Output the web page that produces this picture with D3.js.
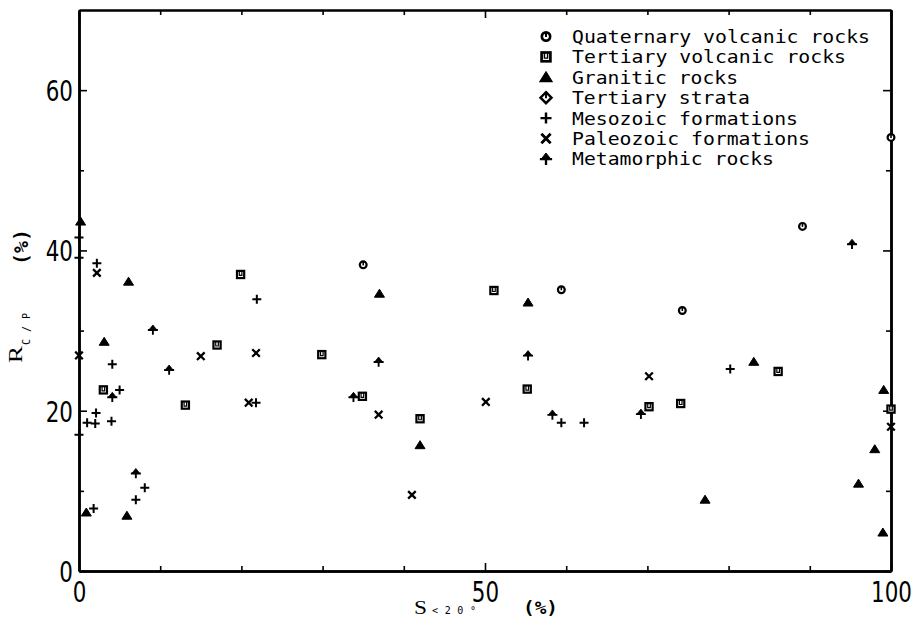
<!DOCTYPE html>
<html><head><meta charset="utf-8">
<script src="https://cdn.jsdelivr.net/npm/d3@7"></script>
<style>body{margin:0;background:#fff}svg{display:block}</style>
</head><body>
<svg id="c" width="915" height="638"></svg>
<script>
// ---- data ----
const seriesNames = ["Quaternary volcanic rocks","Tertiary volcanic rocks","Granitic rocks","Tertiary strata","Mesozoic formations","Paleozoic formations","Metamorphic rocks"];
const quaternaryX = [35.0, 59.4, 74.3, 89.1, 100];
const quaternaryY = [38.2, 35.1, 32.5, 43.0, 54.1];
const tertiaryVolcX = [19.9, 17.0, 3.0, 13.1, 29.9, 34.9, 42.0, 51.1, 55.2, 70.2, 74.1, 86.1, 100];
const tertiaryVolcY = [37.0, 28.2, 22.6, 20.7, 27.0, 21.8, 19.0, 35.0, 22.7, 20.5, 20.9, 24.9, 20.2];
const graniticX = [0.2, 6.1, 3.1, 0.9, 5.9, 37.0, 42.0, 55.3, 83.1, 99.1, 98.0, 77.1, 96.0, 99.0];
const graniticY = [43.6, 36.1, 28.6, 7.3, 6.9, 34.6, 15.7, 33.5, 26.1, 22.6, 15.2, 8.9, 10.9, 4.8];
const tertiaryStrataX = [];
const tertiaryStrataY = [];
const mesozoicX = [0, 0, 0, 2.2, 4.1, 5.0, 2.1, 1.0, 2.0, 4.0, 8.1, 7.0, 1.8, 21.9, 21.8, 59.4, 62.2, 80.2];
const mesozoicY = [41.6, 39.1, 17.0, 38.4, 25.8, 22.6, 19.7, 18.5, 18.4, 18.7, 10.4, 8.9, 7.8, 33.9, 21.0, 18.5, 18.5, 25.2];
const paleozoicX = [0, 2.2, 15.0, 21.8, 20.9, 36.9, 41.0, 50.1, 70.2, 100];
const paleozoicY = [26.9, 37.2, 26.8, 27.2, 21.0, 19.5, 9.5, 21.1, 24.3, 18.0];
const metamorphicX = [9.1, 11.1, 4.1, 7.0, 36.9, 33.8, 55.3, 58.3, 95.2, 69.2];
const metamorphicY = [30.1, 25.1, 21.7, 12.2, 26.1, 21.7, 26.9, 19.5, 40.8, 19.6];
const xMajorTicks = [0, 50, 100];
const yMajorTicks = [0, 20, 40, 60];
const xMinorTicks = [10, 20, 30, 40, 60, 70, 80, 90];
const yMinorTicks = [10, 30, 50];

// ---- layout ----
const svg = d3.select("#c");
const L = 79, R = 891, T = 10, B = 571;
const x = d3.scaleLinear().domain([0, 100]).range([L, R]);
const y = d3.scaleLinear().domain([0, 70]).range([B, T]);
const ink = "#000";

// markers
function drawMarker(g, kind, s) {
  const k = s / 9;
  if (kind === 0) {
    g.append("circle").attr("r", 3.4 * k).attr("fill", "#fff").attr("stroke", ink).attr("stroke-width", 2.2 * k);
    g.append("line").attr("x1", 0).attr("x2", 0).attr("y1", -3.4 * k).attr("y2", 0.5 * k).attr("stroke", ink).attr("stroke-width", 1.6 * k);
  } else if (kind === 1) {
    g.append("rect").attr("x", -3.6 * k).attr("y", -3.6 * k).attr("width", 7.2 * k).attr("height", 7.2 * k)
      .attr("fill", "#fff").attr("stroke", ink).attr("stroke-width", 2.2 * k);
    g.append("path").attr("d", `M${-1.3*k},${-3.6*k}V${1*k}H${1.3*k}V${-3.6*k}`).attr("fill", "none").attr("stroke", ink).attr("stroke-width", 1.2 * k);
  } else if (kind === 2) {
    g.append("path").attr("d", `M0,${-4.5*k}L${5*k},${3.5*k}L${-5*k},${3.5*k}Z`).attr("fill", ink).attr("stroke", ink).attr("stroke-width", 1 * k);
  } else if (kind === 3) {
    g.append("path").attr("d", `M0,${-4.5*k}L${4.5*k},0L0,${4.5*k}L${-4.5*k},0Z`).attr("fill", "#fff").attr("stroke", ink).attr("stroke-width", 2 * k);
    g.append("line").attr("x1", 0).attr("x2", 0).attr("y1", -4.5 * k).attr("y2", 0.5 * k).attr("stroke", ink).attr("stroke-width", 1.6 * k);
  } else if (kind === 4) {
    g.append("path").attr("d", `M${-4.5*k},0H${4.5*k}M0,${-4.5*k}V${4.5*k}`).attr("stroke", ink).attr("stroke-width", 2 * k);
  } else if (kind === 5) {
    g.append("path").attr("d", `M${-3.8*k},${-3.8*k}L${3.8*k},${3.8*k}M${3.8*k},${-3.8*k}L${-3.8*k},${3.8*k}`).attr("stroke", ink).attr("stroke-width", 2.3 * k);
  } else if (kind === 6) {
    g.append("path").attr("d", `M0,${-4.8*k}L${4*k},${0.2*k}L${-4*k},${0.2*k}Z`).attr("fill", ink).attr("stroke", ink).attr("stroke-width", 0.8 * k);
    g.append("path").attr("d", `M${-5*k},${0.2*k}H${5*k}M0,0V${5*k}`).attr("stroke", ink).attr("stroke-width", 1.9 * k);
  }
}

// ---- axes (ticks inward on all four sides) ----
function styleAxis(g) {
  g.selectAll("path.domain").attr("stroke", ink).attr("stroke-width", 2.5);
  g.selectAll(".tick line").attr("stroke", ink).attr("stroke-width", 1.6);
}
const labelFont = "'DejaVu Sans', sans-serif";
// minor ticks
svg.append("g").attr("transform", `translate(0,${B})`).call(d3.axisBottom(x).tickValues(xMinorTicks).tickSize(-5).tickSizeOuter(0).tickFormat(""))
  .call(styleAxis);
svg.append("g").attr("class", "topaxis").attr("transform", `translate(0,${T})`).call(d3.axisTop(x).tickValues(xMinorTicks).tickSize(-5).tickSizeOuter(0).tickFormat(""))
  .call(styleAxis);
svg.append("g").attr("transform", `translate(${L},0)`).call(d3.axisLeft(y).tickValues(yMinorTicks).tickSize(-5).tickSizeOuter(0).tickFormat(""))
  .call(styleAxis);
svg.append("g").attr("transform", `translate(${R},0)`).call(d3.axisRight(y).tickValues(yMinorTicks).tickSize(-5).tickSizeOuter(0).tickFormat(""))
  .call(styleAxis);
// major ticks with labels
const gx = svg.append("g").attr("transform", `translate(0,${B})`)
  .call(d3.axisBottom(x).tickValues(xMajorTicks).tickSize(-8).tickSizeOuter(0).tickPadding(10).tickFormat(d3.format("d")))
  .call(styleAxis);
gx.selectAll("text").attr("font-family", labelFont).attr("font-size", 29).attr("fill", ink)
  .attr("transform", "scale(0.74,1)").attr("x", 0);
const gy = svg.append("g").attr("transform", `translate(${L},0)`)
  .call(d3.axisLeft(y).tickValues(yMajorTicks).tickSize(-8).tickSizeOuter(0).tickPadding(6).tickFormat(d3.format("d")))
  .call(styleAxis);
gy.selectAll("text").attr("font-family", labelFont).attr("font-size", 29).attr("fill", ink)
  .attr("transform", "scale(0.74,1)").attr("x", -6 / 0.74).attr("dy", "0.36em");
svg.append("g").attr("transform", `translate(${R},0)`)
  .call(d3.axisRight(y).tickValues(yMajorTicks).tickSize(-8).tickSizeOuter(0).tickFormat(""))
  .call(styleAxis);
svg.append("g").attr("class", "topaxis").attr("transform", `translate(0,${T})`)
  .call(d3.axisTop(x).tickValues(xMajorTicks).tickSize(-8).tickSizeOuter(0).tickFormat(""))
  .call(styleAxis);
svg.selectAll(".topaxis path.domain").attr("stroke-width", 2);

// ---- axis titles ----
const serif = "'Liberation Serif', 'DejaVu Serif', serif";
const mono = "'DejaVu Sans Mono', monospace";
svg.append("text").attr("x", 414).attr("y", 614).attr("font-family", serif).attr("font-size", 19)
  .attr("textLength", 13).attr("lengthAdjust", "spacingAndGlyphs").text("S");
svg.append("text").attr("x", 432).attr("y", 614).attr("font-family", mono).attr("font-size", 10)
  .attr("textLength", 44).attr("lengthAdjust", "spacing").text("<20°");
svg.append("text").attr("x", 523).attr("y", 614).attr("font-family", mono).attr("font-size", 18).attr("font-weight", "bold")
  .attr("textLength", 35).attr("lengthAdjust", "spacingAndGlyphs").text("(%)");

svg.append("text").attr("transform", "translate(22,363) rotate(-90)").attr("font-family", serif).attr("font-size", 18)
  .attr("textLength", 17).attr("lengthAdjust", "spacingAndGlyphs").text("R");
svg.append("text").attr("transform", "translate(30,345) rotate(-90)").attr("font-family", mono).attr("font-size", 10)
  .attr("textLength", 32).attr("lengthAdjust", "spacing").text("C/P");
svg.append("text").attr("transform", "translate(28,265) rotate(-90)").attr("font-family", mono).attr("font-size", 19).attr("font-weight", "bold")
  .attr("textLength", 36).attr("lengthAdjust", "spacingAndGlyphs").text("(%)");

// ---- points ----
const seriesData = [
  [quaternaryX, quaternaryY], [tertiaryVolcX, tertiaryVolcY], [graniticX, graniticY],
  [tertiaryStrataX, tertiaryStrataY], [mesozoicX, mesozoicY], [paleozoicX, paleozoicY], [metamorphicX, metamorphicY]
];
seriesData.forEach((s, k) => {
  const pts = s[0].map((v, i) => ({ x: v, y: s[1][i] }));
  svg.append("g").selectAll("g").data(pts).join("g")
    .attr("transform", d => `translate(${x(d.x)},${y(d.y)})`)
    .each(function(){ drawMarker(d3.select(this), k, 9); });
});

// ---- legend ----
const lg = svg.append("g");
seriesNames.forEach((name, i) => {
  const cy = 36.5 + i * 20.4;
  drawMarker(lg.append("g").attr("transform", `translate(546,${cy})`), i, 11);
  lg.append("text").attr("x", 572).attr("y", cy + 6.5).attr("font-family", mono).attr("font-size", 17.5)
    .attr("textLength", name.length * 12 - 2).attr("lengthAdjust", "spacingAndGlyphs").attr("fill", ink).text(name);
});
</script>
</body></html>
